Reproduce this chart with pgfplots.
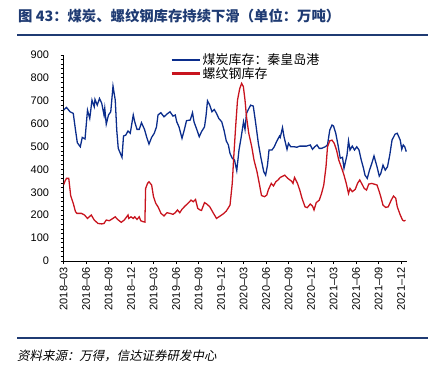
\documentclass[border=0pt]{standalone}
\usepackage{pgfplots}
\pgfplotsset{compat=1.18}
\usepackage{fontspec}
\setmainfont{Liberation Sans}
\newfontfamily\cjk{Noto Sans CJK SC}
\newfontfamily\cjkit[FakeSlant=0.2]{Noto Sans CJK SC}
\definecolor{navy}{HTML}{1F3B73}
\definecolor{cblue}{HTML}{0B2D8C}
\definecolor{cred}{HTML}{C8141E}
\begin{document}
\begin{tikzpicture}[x=1bp,y=1bp]
\path[use as bounding box] (0,0) rectangle (441,371);
\node[anchor=base west, inner sep=0, text=navy, font=\cjk\bfseries\fontsize{14.4}{15}\selectfont] at (18,350) {图 43：煤炭、螺纹钢库存持续下滑（单位：万吨）};
\draw[navy, line width=1.5] (17,336) -- (428,336);
\draw[navy, line width=1.5] (17,33) -- (428,33);
\node[anchor=base west, inner sep=0, font=\cjkit\fontsize{12.5}{13}\selectfont] at (17,11) {资料来源：万得，信达证券研发中心};
\begin{axis}[at={(63.5bp,110bp)}, anchor=south west, scale only axis,
  width=343.5bp, height=206bp,
  xmin=0, xmax=45.8, ymin=0, ymax=900,
  axis lines=left, axis line style={-, black, line width=0.9},
  ytick={0,100,...,900}, minor y tick num=4,
  xtick={0,3,...,45},
  xticklabels={2018--03,2018--06,2018--09,2018--12,2019--03,2019--06,2019--09,2019--12,2020--03,2020--06,2020--09,2020--12,2021--03,2021--06,2021--09,2021--12},
  tick align=outside, major tick length=3bp, minor tick length=3bp,
  tick style={black, line width=0.8},
  /pgf/number format/assume math mode=true,
  y tick label style={font=\fontsize{11}{12}\selectfont, xshift=-8bp},
  x tick label style={rotate=90, anchor=east, font=\fontsize{11}{12}\selectfont},
  legend style={at={(0.311,1.018)}, anchor=north west, draw=none, fill=none,
    font=\cjk\fontsize{13}{14}\selectfont, row sep=-2.5bp, inner sep=0pt},
  legend cell align=left,
  legend image code/.code={\draw[#1, line width=2.2bp] (0bp,0bp) -- (28bp,0bp);},
]
\addplot[cblue, line width=1.3] coordinates {
(0,659)(0.4,671)(0.87,652)(1.3,645)(1.6,572)(1.84,517)(2.24,499)(2.5,540)(2.87,533)(3.2,659)(3.5,623)(3.8,703)(4.1,674)(4.2,706)(4.5,681)(4.8,710)(5.1,689)(5.4,638)(5.5,667)(5.7,598)(6.0,638)(6.3,652)(6.6,764)(6.9,703)(7.1,572)(7.3,492)(7.8,453)(8.0,546)(8.3,550)(8.6,568)(8.9,558)(9.3,638)(9.5,608)(9.8,575)(10.1,575)(10.4,604)(10.8,575)(11.1,540)(11.4,511)(11.75,540)(12.1,558)(12.4,586)(12.6,638)(12.98,648)(13.4,630)(13.8,642)(14.2,652)(14.6,633)(14.9,638)(15.1,608)(15.4,586)(15.8,536)(16.1,572)(16.4,613)(16.9,616)(17.2,648)(17.4,608)(17.8,572)(18.1,543)(18.4,565)(18.8,586)(19.0,633)(19.2,700)(19.5,681)(19.8,652)(20.1,662)(20.4,645)(20.7,623)(21.1,608)(21.4,572)(21.7,525)(21.98,507)(22.2,470)(22.5,449)(22.8,441)(23.1,395)(23.4,485)(23.7,543)(24.0,608)(24.2,575)(24.4,645)(24.6,659)(24.95,681)(25.3,677)(25.6,608)(25.98,514)(26.3,455)(26.7,390)(26.95,375)(27.2,419)(27.4,485)(27.8,485)(28.1,499)(28.4,521)(28.8,546)(28.9,540)(29.2,583)(29.4,543)(29.8,488)(30.0,514)(30.3,499)(30.8,499)(31.1,497)(31.5,502)(31.98,502)(32.4,502)(32.9,507)(33.2,488)(33.5,499)(33.8,507)(34.1,492)(34.4,492)(34.9,499)(35.2,507)(35.5,572)(35.8,594)(36.0,590)(36.3,558)(36.6,507)(36.9,449)(37.2,453)(37.4,405)(37.8,463)(38.0,525)(38.2,485)(38.5,502)(38.8,485)(39.1,499)(39.4,485)(39.7,441)(40.0,405)(40.2,375)(40.5,361)(40.8,397)(41.1,426)(41.4,459)(41.8,412)(42.1,371)(42.3,382)(42.6,419)(42.9,397)(43.2,412)(43.5,463)(43.8,528)(44.2,554)(44.5,558)(44.9,528)(45.1,488)(45.3,507)(45.5,499)(45.7,478)
};
\addlegendentry{煤炭库存：秦皇岛港}
\addplot[cred, line width=1.3] coordinates {
(0,332)(0.2,349)(0.4,361)(0.7,361)(0.96,285)(1.3,252)(1.6,215)(1.8,208)(2.4,208)(2.8,201)(3.2,186)(3.7,201)(4.1,179)(4.6,164)(5.1,162)(5.4,164)(5.7,179)(6.1,176)(6.4,182)(6.9,193)(7.2,182)(7.7,169)(8.1,179)(8.6,201)(8.7,186)(9.0,193)(9.3,186)(9.5,193)(9.8,182)(10.1,193)(10.3,176)(10.6,172)(10.85,170)(10.95,317)(11.2,339)(11.4,346)(11.75,332)(12.0,281)(12.3,252)(12.6,237)(13.0,208)(13.4,197)(13.8,211)(14.2,208)(14.6,204)(14.9,211)(15.2,223)(15.5,211)(15.8,226)(16.2,240)(16.6,252)(17.0,266)(17.3,259)(17.6,269)(17.9,230)(18.2,223)(18.4,221)(18.8,255)(19.1,249)(19.5,237)(20.0,208)(20.4,186)(20.9,197)(21.3,206)(21.7,218)(22.2,244)(22.5,339)(22.7,455)(22.95,586)(23.2,703)(23.5,754)(23.75,776)(23.98,762)(24.2,703)(24.4,630)(24.7,558)(25.1,499)(25.4,441)(25.8,390)(26.1,339)(26.4,286)(26.8,281)(27.1,288)(27.3,310)(27.7,339)(28.0,328)(28.3,346)(28.6,354)(28.9,365)(29.5,375)(29.9,361)(30.4,349)(30.6,339)(30.8,365)(31.2,339)(31.5,310)(31.8,274)(32.2,237)(32.5,233)(32.9,249)(33.2,240)(33.4,223)(33.7,255)(34.1,266)(34.4,294)(34.7,332)(35.0,412)(35.2,499)(35.5,525)(35.8,528)(36.1,514)(36.4,485)(36.7,441)(37.1,405)(37.4,375)(37.7,339)(38.0,295)(38.2,317)(38.5,303)(38.9,313)(39.2,339)(39.5,354)(39.8,336)(40.1,317)(40.4,310)(40.7,336)(41.1,339)(41.4,336)(41.8,332)(42.1,303)(42.3,281)(42.6,244)(42.96,234)(43.3,237)(43.7,266)(44.0,284)(44.3,274)(44.5,237)(44.9,201)(45.2,179)(45.4,175)(45.6,178)
};
\addlegendentry{螺纹钢库存}
\end{axis}
\end{tikzpicture}
\end{document}
